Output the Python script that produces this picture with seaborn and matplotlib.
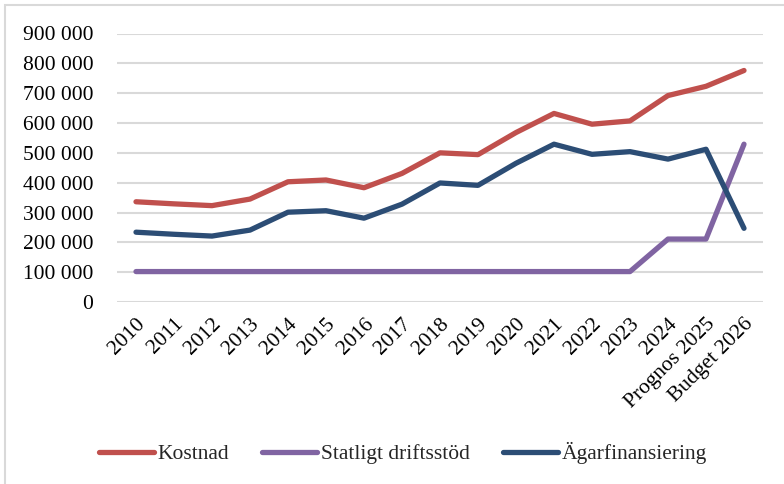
import pandas as pd
import seaborn as sns
import matplotlib.pyplot as plt
from matplotlib.ticker import FuncFormatter
from matplotlib.patches import Rectangle

# Data
ar = ['2010', '2011', '2012', '2013', '2014', '2015', '2016', '2017', '2018',
      '2019', '2020', '2021', '2022', '2023', '2024', 'Prognos 2025', 'Budget 2026']
kostnad = [336000, 329000, 323000, 345000, 403000, 409000, 383000, 431000, 500000,
           494000, 568000, 632000, 596000, 607000, 692000, 723000, 776000]
statligt = [102000, 102000, 102000, 102000, 102000, 102000, 102000, 102000, 102000,
            102000, 102000, 102000, 102000, 102000, 211000, 211000, 529000]
agar = [234000, 227000, 221000, 241000, 301000, 306000, 281000, 328000, 399000,
        391000, 465000, 529000, 495000, 504000, 479000, 512000, 247000]
serier = ['Kostnad', 'Statligt driftsstöd', 'Ägarfinansiering']
farger = ['#C0504D', '#8064A2', '#2C4D75']

df = pd.DataFrame({'ar': ar * 3,
                   'varde': kostnad + statligt + agar,
                   'serie': [s for s in serier for _ in ar]})

sns.set_theme(style='white')
plt.rcParams['font.family'] = ['Liberation Serif', 'DejaVu Serif']
fs = 15.5

fig = plt.figure(figsize=(7.84, 4.84), dpi=100)
ax = fig.add_axes([117 / 784, 1 - 302 / 484, 646 / 784, (302 - 33.5) / 484])

sns.lineplot(data=df, x='ar', y='varde', hue='serie', palette=farger,
             linewidth=3.8, sort=False, legend=True, ax=ax,
             solid_capstyle='round')

ax.set_xlim(-0.5, len(ar) - 0.5)
ax.set_ylim(0, 900000)
ax.set_yticks(range(0, 900001, 100000))
ax.yaxis.set_major_formatter(FuncFormatter(lambda v, p: f'{int(v):,}'.replace(',', ' ')))
ax.grid(axis='y', color='#D9D9D9', linewidth=1.5)
ax.set_axisbelow(True)
for s in ax.spines.values():
    s.set_visible(False)
ax.tick_params(axis='y', length=0, pad=17, labelsize=fs, labelcolor='black')
ax.tick_params(axis='x', length=0, pad=9, labelsize=fs, labelcolor='black')
plt.setp(ax.get_xticklabels(), rotation=45, ha='right', rotation_mode='anchor')
ax.set_xlabel('')
ax.set_ylabel('')

handles, labels = ax.get_legend_handles_labels()
ax.get_legend().remove()
fig.legend(handles, labels, loc='center', bbox_to_anchor=(403 / 784, 1 - 453 / 484),
           ncol=3, frameon=False, fontsize=fs, handlelength=2.55,
           handletextpad=0.19, columnspacing=1.53)

# light frame (top and left edge visible in the reference)
fig.patches.append(Rectangle((5 / 784, -0.1), 1.2, 1 - 5 / 484 + 0.1,
                             transform=fig.transFigure, fill=False,
                             edgecolor='#D9D9D9', linewidth=1.5))

fig.savefig('out.png', dpi=100)
